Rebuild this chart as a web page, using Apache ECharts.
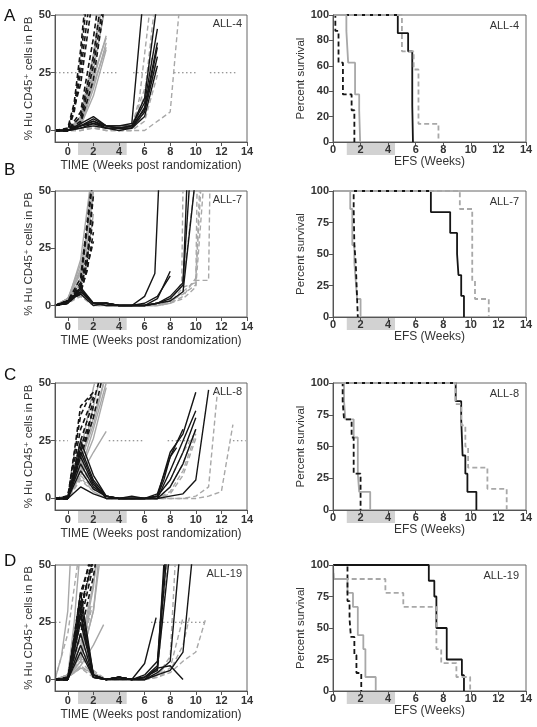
<!DOCTYPE html>
<html><head><meta charset="utf-8">
<script src="https://cdn.jsdelivr.net/npm/echarts@6/dist/echarts.min.js"></script>
<style>html,body{margin:0;padding:0;background:#fff}#c{width:537px;height:727px}</style>
</head><body><div id="c"></div>
<script>
// ---------- DATA ----------
const leftXTicks = [0,2,4,6,8,10,12,14];
const leftYTicks = [0,25,50];
const kmYTicksA = [0,20,40,60,80,100];
const kmYTicks = [0,25,50,75,100];
const treatBandLeft = [0.8, 4.6];
const treatBandRight = [1.0, 4.5];
const threshold = 25;

// Panel A (ALL-4) individual mice
const A_blackDash = [
 [[-1,0],[0,0],[0.5,10],[1,30],[1.4,52]],
 [[-1,0],[0,0],[0.5,8],[1,25],[1.6,52]],
 [[-1,0],[0,1],[0.5,12],[1,35],[1.3,52]],
 [[-1,0],[0,0],[1,20],[1.5,40],[1.8,52]],
 [[-1,0],[0,0],[1,6],[2,32],[2.5,52]],
 [[-1,0],[0,0],[1,4],[2,28],[2.7,52]],
 [[-1,0],[0,0],[1,8],[2,40],[2.3,52]],
 [[-1,0],[0,0],[1,3],[2,22],[2.8,52]]
];
const A_greySolid = [
 [[-1,0],[0,0],[1,3],[2,22],[3,41]],
 [[-1,0],[0,0],[1,4],[2,26],[2.8,50]],
 [[-1,0],[0,0],[1,2],[2,18],[3,38]],
 [[-1,0],[0,0],[1,5],[2,30],[2.6,52]],
 [[-1,0],[0,0],[1,2],[2,15],[3,35]],
 [[-1,0],[0,0],[1,6],[2,33],[2.5,52]],
 [[-1,0],[0,0],[1,3],[2,20],[3,36]],
 [[-1,0],[0,0],[1,4],[2,24],[3,40]]
];
const A_blackSolid = [
 [[-1,0],[0,0],[1,2],[2,5],[3,2],[4,2],[5,3],[5.8,52]],
 [[-1,0],[0,0],[1,2],[2,4],[3,1],[4,1],[5,2],[6,14],[6.9,52]],
 [[-1,0],[0,0],[1,3],[2,6],[3,2],[4,1],[5,1],[6,10],[7,38]],
 [[-1,0],[0,0],[1,1],[2,3],[3,1],[4,1],[5,1],[6,8],[7,32]],
 [[-1,0],[0,0],[1,2],[2,4],[3,2],[4,2],[5,2],[6,12],[7,44]],
 [[-1,0],[0,0],[1,1],[2,2],[3,1],[4,0],[5,1],[6,6],[7,28]],
 [[-1,0],[0,0],[1,2],[2,3],[3,2],[4,1],[5,2],[6,9],[7,36]]
];
const A_greyDash = [
 [[-1,0],[0,0],[1,1],[2,2],[3,1],[4,0],[5,0],[6,0],[8,8],[8.7,52]],
 [[-1,0],[0,0],[1,1],[2,1],[3,1],[4,1],[5,1],[5.6,14],[6.4,52]],
 [[-1,0],[0,0],[1,0],[2,1],[3,0],[4,0],[5,0],[6,8],[6.9,30]],
 [[-1,0],[0,0],[1,1],[2,2],[3,1],[4,1],[5,1],[6,12],[7,28]],
 [[-1,0],[0,0],[1,1],[2,1],[3,1],[4,0],[5,2],[6,18],[6.6,32]],
 [[-1,0],[0,0],[1,0],[2,1],[3,0],[4,0],[5,0],[6,4],[7,24]],
 [[-1,0],[0,0],[1,1],[2,2],[3,1],[4,1],[5,1],[6,15],[6.7,50]]
];
const A_threshold = [[-1,3.8],[5.1,7.0],[8.3,10.1],[11.1,13.1]];

// Panel B (ALL-7)
const B_blackDash = [
 [[-1,0],[0,2],[1,8],[1.5,18],[1.9,45]],
 [[-1,0],[0,1],[1,6],[1.5,15],[2,32]],
 [[-1,0],[0,2],[1,10],[1.9,52]],
 [[-1,0],[0,1],[1,7],[1.5,20],[2,38]],
 [[-1,0],[0,2],[1,5],[2,28]],
 [[-1,0],[0,1],[1,9],[1.6,25],[2,48]],
 [[-1,0],[0,2],[1,12],[1.8,50]]
];
const B_greySolid = [
 [[-1,0],[0,3],[1,15],[1.5,28],[2,50]],
 [[-1,0],[0,2],[1,12],[1.5,25],[1.9,50]],
 [[-1,0],[0,3],[1,18],[1.5,32],[1.8,52]],
 [[-1,0],[0,2],[1,10],[1.5,20],[2,40]],
 [[-1,0],[0,3],[1,14],[2,50]],
 [[-1,0],[0,2],[1,20],[1.7,50]],
 [[-1,0],[0,3],[1,16],[1.5,30],[2,52]]
];
const B_blackSolid = [
 [[-1,0],[0,2],[1,7],[2,1],[3,1],[4,0],[5,0],[6,4],[6.8,14],[7.1,52]],
 [[-1,0],[0,2],[1,6],[2,1],[3,1],[4,0],[5,0],[6,0],[7,3],[8,15]],
 [[-1,0],[0,1],[1,8],[2,1],[3,1],[4,0],[5,0],[6,1],[7,4],[8,13]],
 [[-1,0],[0,2],[1,5],[2,0],[3,1],[4,0],[5,0],[6,0],[7,1],[8,3],[9,9],[9.3,52]],
 [[-1,0],[0,1],[1,6],[2,1],[3,0],[4,0],[5,0],[6,0],[7,1],[8,2],[9,6],[9.9,52]],
 [[-1,0],[0,2],[1,7],[2,1],[3,1],[4,0],[5,0],[6,0],[7,1],[8,4],[9,10],[9.5,52]]
];
const B_greyDash = [
 [[-1,0],[0,2],[1,5],[2,1],[3,0],[4,0],[5,0],[6,0],[7,1],[8,2],[8.9,10],[9.0,52]],
 [[-1,0],[0,2],[1,4],[2,1],[3,0],[4,0],[5,0],[6,0],[7,0],[8,1],[9,6],[10,11],[11,11],[11.1,52]],
 [[-1,0],[0,2],[1,6],[2,1],[3,0],[4,0],[5,0],[6,0],[7,0],[8,1],[9,8],[10,10],[10.3,52]],
 [[-1,0],[0,1],[1,5],[2,0],[3,0],[4,0],[5,0],[6,0],[7,0],[8,2],[9,5],[10,9],[10.1,52]],
 [[-1,0],[0,2],[1,7],[2,1],[3,0],[4,0],[5,0],[6,0],[7,1],[8,1],[9,4],[10,12],[10.4,52]],
 [[-1,0],[0,1],[1,4],[2,0],[3,0],[4,0],[5,0],[6,0],[7,0],[8,1],[9,3],[10,8],[10.6,52]],
 [[-1,0],[0,2],[1,5],[2,1],[3,0],[4,0],[5,0],[6,0],[7,1],[8,3],[9,9],[9.9,52]]
];
const B_threshold = [];

// Panel C (ALL-8)
const C_blackDash = [
 [[-1,0],[0,0],[1,40],[2,46]],
 [[-1,0],[0,1],[1,36],[1.5,42],[2,45]],
 [[-1,0],[0,0],[1,25],[2,42],[2.4,50]],
 [[-1,0],[0,0],[1,20],[1.5,28],[2,40]],
 [[-1,0],[0,1],[1,30],[2,44]],
 [[-1,0],[0,0],[1,18],[2,35],[2.6,50]],
 [[-1,0],[0,0],[1,22],[1.5,30],[2,38]]
];
const C_greySolid = [
 [[-1,0],[0,0],[1,15],[2,35],[2.8,50]],
 [[-1,0],[0,1],[1,12],[2,30],[3,50]],
 [[-1,0],[0,0],[1,10],[2,20],[3,29]],
 [[-1,0],[0,0],[1,20],[2,48],[2.2,52]],
 [[-1,0],[0,1],[1,14],[2,40],[2.5,52]],
 [[-1,0],[0,0],[1,16],[2,32],[2.9,52]],
 [[-1,0],[0,0],[1,12],[2,26],[3,48]]
];
const C_blackSolid = [
 [[-1,0],[0,0],[1,5],[2,2],[3,0],[4,0],[5,0],[6,0],[7,1],[8,20],[9,28],[10,46]],
 [[-1,0],[0,0],[1,22],[2,8],[3,1],[4,0],[5,1],[6,0],[7,0],[8,12],[9,25],[10,38]],
 [[-1,0],[0,0],[1,18],[2,6],[3,1],[4,0],[5,0],[6,0],[7,2],[8,18],[8.5,24],[9,30]],
 [[-1,0],[0,0],[1,25],[2,10],[3,1],[4,0],[5,0],[6,0],[7,0],[8,5],[9,15],[10,30]],
 [[-1,0],[0,0],[1,12],[2,4],[3,1],[4,0],[5,0],[6,0],[7,0],[8,1],[9,2],[10,8],[11,47]],
 [[-1,0],[0,0],[1,15],[2,5],[3,1],[4,0],[5,0],[6,0],[7,1],[8,8],[9,20],[10,35]],
 [[-1,0],[0,0],[1,20],[2,7],[3,0],[4,0],[5,0],[6,0],[7,1],[7.5,8],[8,18],[8.5,22]]
];
const C_greyDash = [
 [[-1,0],[0,0],[1,10],[2,4],[3,1],[4,0],[5,0],[6,0],[7,0],[8,0],[9,0],[10,1],[11,5],[11.7,47]],
 [[-1,0],[0,0],[1,8],[2,3],[3,0],[4,0],[5,0],[6,0],[7,0],[8,0],[9,0],[10,0],[11,1],[12,3],[12.9,32]],
 [[-1,0],[0,0],[1,14],[2,5],[3,1],[4,0],[5,0],[6,0],[7,0],[8,5],[9,15],[10,30]],
 [[-1,0],[0,0],[1,12],[2,4],[3,1],[4,0],[5,0],[6,0],[7,0],[8,3],[9,12],[10,28]],
 [[-1,0],[0,0],[1,16],[2,6],[3,1],[4,0],[5,0],[6,0],[7,1],[8,8],[9,20],[10,29]],
 [[-1,0],[0,0],[1,9],[2,3],[3,0],[4,0],[5,0],[6,0],[7,0],[8,2],[9,10],[10,26]]
];
const C_threshold = [[-1,0],[3.2,6.0],[7.8,9.5],[12.9,13.9]];

// Panel D (ALL-19)
const D_blackDash = [
 [[-1,0],[0,0],[1,38],[1.8,52]],
 [[-1,0],[0,1],[1,32],[2,52]],
 [[-1,0],[0,0],[1,28],[1.6,45],[1.9,52]],
 [[-1,0],[0,0],[1,35],[1.7,52]],
 [[-1,0],[0,1],[1,25],[2,50]],
 [[-1,0],[0,0],[1,30],[1.5,42],[2,52]],
 [[-1,0],[0,0],[1,20],[2,45],[2.2,52]]
];
const D_greySolid = [
 [[-1,0],[-0.5,10],[0,30],[0.2,52]],
 [[-1,0],[0,2],[0.5,25],[0.9,52]],
 [[-1,0],[0,2],[1,12],[2,40],[2.2,52]],
 [[-1,0],[0,1],[1,8],[2,30],[2.4,52]],
 [[-1,0],[0,2],[1,10],[1.8,32]],
 [[-1,0],[0,1],[1,6],[2,15],[2.8,24]],
 [[-1,0],[0,2],[1,15],[2,42],[2.3,52]],
 [[-1,0],[0,1],[1,5],[2,3],[3,0],[4,0],[5,0],[6,0],[7,2],[7.5,5]],
 [[-1,0],[0,1],[1,8],[2,30],[2.5,52]]
];
const D_blackSolid = [
 [[-1,0],[0,0],[1,38],[2,2],[3,0],[4,1],[5,0],[6,7],[6.9,27]],
 [[-1,0],[0,0],[1,30],[2,1],[3,0],[4,1],[5,0],[6,1],[7,6],[7.7,52]],
 [[-1,0],[0,0],[1,25],[2,2],[3,0],[4,0],[5,0],[6,0],[7,5],[7.9,52]],
 [[-1,0],[0,0],[1,20],[2,1],[3,0],[4,1],[5,0],[6,2],[7,8],[7.6,52]],
 [[-1,0],[0,0],[1,15],[2,1],[3,0],[4,1],[5,0],[6,1],[7,5],[8,6],[9,0]],
 [[-1,0],[0,0],[1,34],[2,2],[3,0],[4,1],[5,0],[6,0],[7,3],[8,8],[8.7,52]],
 [[-1,0],[0,0],[1,12],[2,1],[3,0],[4,1],[5,0],[6,0],[7,2],[8,4],[9,12],[9.7,52]],
 [[-1,0],[0,0],[1,28],[2,2],[3,0],[4,1],[5,0],[6,1],[7,4],[7.5,50]]
];
const D_greyDash = [
 [[-1,0],[0,20],[0.8,52]],
 [[-1,0],[0,1],[1,10],[2,3],[3,0],[4,0],[5,0],[6,0],[7,2],[8,5],[9,27]],
 [[-1,0],[0,1],[1,8],[2,2],[3,0],[4,0],[5,0],[6,0],[7,1],[8,3],[9,8],[10,12],[10.8,27]],
 [[-1,0],[0,1],[1,12],[2,3],[3,0],[4,0],[5,0],[6,1],[7,4],[7.6,52]],
 [[-1,0],[0,1],[1,6],[2,2],[3,0],[4,0],[5,0],[6,0],[7,3],[7.8,52]],
 [[-1,0],[0,2],[1,15],[2,2],[3,0],[4,0],[5,0],[6,0],[7,2],[8,10],[8.4,52]],
 [[-1,0],[0,1],[1,5],[2,1],[3,0],[4,0],[5,0],[6,0],[7,1],[8,4],[9,15],[9.5,27]],
 [[-1,0],[0,1],[1,10],[1.9,32]],
 [[-1,0],[0,1],[1,18],[2,4],[3,0],[4,0],[5,0],[6,0],[7,5],[7.4,27]]
];
const D_threshold = [[-1,-0.4],[6.5,10.7]];

// Kaplan-Meier (EFS) step data: [week, percent surviving]
const kmA_blackDash = [[0,100],[0.17,87.5],[0.4,62.5],[0.72,37.5],[1.35,25],[1.55,0]];
const kmA_greySolid = [[0,100],[0.97,87.5],[1.1,62.5],[1.6,37.5],[1.9,25],[1.97,0]];
const kmA_blackSolid = [[0,100],[4.7,85.7],[5.45,71.4],[5.75,28.6],[5.8,0]];
const kmA_greyDash = [[0,100],[5.0,71.4],[5.85,57.1],[6.2,14.3],[7.65,0]];

const kmB_blackDash = [[0,100],[1.5,85.7],[1.55,57.1],[1.65,42.9],[1.7,28.6],[1.75,14.3],[1.8,0]];
const kmB_greySolid = [[0,100],[1.25,85.7],[1.4,57.1],[1.55,42.9],[1.65,28.6],[1.75,14.3],[2.0,0]];
const kmB_blackSolid = [[0,100],[7.1,83.3],[8.5,66.7],[9.0,50],[9.1,33.3],[9.3,16.7],[9.5,0]];
const kmB_greyDash = [[0,100],[9.2,85.7],[10.1,28.6],[10.3,14.3],[11.3,0]];

const kmC_blackDash = [[0,100],[0.7,85.7],[0.8,71.4],[1.35,57.1],[1.5,28.6],[2.0,0]];
const kmC_greySolid = [[0,100],[0.8,85.7],[0.9,71.4],[1.5,57.1],[1.8,28.6],[1.9,14.3],[2.7,0]];
const kmC_blackSolid = [[0,100],[8.9,85.7],[9.3,71.4],[9.4,42.9],[9.6,28.6],[9.75,14.3],[10.4,0]];
const kmC_greyDash = [[0,100],[8.9,83.3],[9.3,66.7],[9.6,50],[9.8,33.3],[11.2,16.7],[12.6,0]];

const kmD_blackDash = [[0,100],[1.05,71.4],[1.2,57.1],[1.3,42.9],[1.55,28.6],[1.7,14.3],[2.05,0]];
const kmD_greySolid = [[0,100],[0.05,88.9],[1.05,77.8],[1.45,66.7],[1.8,44.4],[2.2,33.3],[2.35,11.1],[3.1,0]];
const kmD_blackSolid = [[0,100],[6.95,87.5],[7.35,75],[7.5,50],[8.25,25],[9.35,12.5],[9.5,0]];
const kmD_greyDash = [[0,100],[0.05,88.9],[3.8,77.8],[5.1,66.7],[7.5,33.3],[7.85,22.2],[8.95,11.1],[9.95,0]];

// ---------- LAYOUT / STYLE ----------
const FONT = 'Liberation Sans, Arial, DejaVu Sans, sans-serif';
const BLACK = '#151515', GREY = '#a8a8a8';
const panels = [
 {letter:'A', letterY:8, label:'ALL-4', top:15, bottom:142,
  groups:[A_greyDash,A_greySolid,A_blackSolid,A_blackDash], thr:A_threshold,
  km:[kmA_greyDash,kmA_greySolid,kmA_blackSolid,kmA_blackDash], kmTicks:kmYTicksA},
 {letter:'B', letterY:162, label:'ALL-7', top:191, bottom:317,
  groups:[B_greyDash,B_greySolid,B_blackSolid,B_blackDash], thr:B_threshold,
  km:[kmB_greyDash,kmB_greySolid,kmB_blackSolid,kmB_blackDash], kmTicks:kmYTicks},
 {letter:'C', letterY:367, label:'ALL-8', top:383, bottom:510,
  groups:[C_greyDash,C_greySolid,C_blackSolid,C_blackDash], thr:C_threshold,
  km:[kmC_greyDash,kmC_greySolid,kmC_blackSolid,kmC_blackDash], kmTicks:kmYTicks},
 {letter:'D', letterY:553, label:'ALL-19', top:565, bottom:691,
  groups:[D_greyDash,D_greySolid,D_blackSolid,D_blackDash], thr:D_threshold,
  km:[kmD_greyDash,kmD_greySolid,kmD_blackSolid,kmD_blackDash], kmTicks:kmYTicks}
];
// style per group order: greyDash, greySolid, blackSolid, blackDash
const groupStyles = [
 {color:GREY, type:[5,3], width:1.4},
 {color:GREY, type:'solid', width:1.4},
 {color:BLACK, type:'solid', width:1.4},
 {color:BLACK, type:[5,3], width:1.6}
];
const kmDrawOrder = [2, 1, 3, 0];

const L = {left:55, width:192}, R = {left:333, width:193};
const tickLabel = {fontSize:11, fontWeight:'bold', color:'#333', fontFamily:FONT};
const nameStyle = {fontSize:12, color:'#333', fontFamily:FONT};
const axisLineStyle = {color:'#555', width:1};

const option = {animation:false, backgroundColor:'#fff', grid:[], xAxis:[], yAxis:[], series:[], graphic:[]};

panels.forEach((p, i) => {
  const h = p.bottom - p.top;
  const gL = i*4, gLB = gL+1, gR = gL+2, gRB = gL+3;
  option.grid.push({left:L.left, top:p.top, width:L.width, height:h, show:true, borderColor:'#666', borderWidth:1});
  option.grid.push({left:L.left, top:p.bottom, width:L.width, height:13});
  option.grid.push({left:R.left, top:p.top, width:R.width, height:h, show:true, borderColor:'#666', borderWidth:1});
  option.grid.push({left:R.left, top:p.bottom, width:R.width, height:13});

  option.xAxis.push({gridIndex:gL, type:'value', min:-1, max:14, z:5,
    axisLine:{show:true, onZero:false, lineStyle:axisLineStyle},
    axisTick:{show:true, customValues:leftXTicks, length:4, lineStyle:axisLineStyle},
    axisLabel:{customValues:leftXTicks, margin:4, ...tickLabel},
    splitLine:{show:false},
    name:'TIME (Weeks post randomization)', nameLocation:'middle', nameGap:18, nameTextStyle:nameStyle});
  option.yAxis.push({gridIndex:gL, type:'value', min:-5, max:50, z:5,
    axisLine:{show:true, onZero:false, lineStyle:axisLineStyle},
    axisTick:{show:true, customValues:leftYTicks, length:4, lineStyle:axisLineStyle},
    axisLabel:{customValues:leftYTicks, margin:4, ...tickLabel},
    splitLine:{show:false},
    name:'% Hu CD45⁺ cells in PB', nameLocation:'middle', nameGap:16, nameTextStyle:{...nameStyle, fontSize:11.5}});
  option.xAxis.push({gridIndex:gLB, type:'value', min:-1, max:14, show:false});
  option.yAxis.push({gridIndex:gLB, type:'value', min:0, max:1, show:false});
  option.xAxis.push({gridIndex:gR, type:'value', min:0, max:14, interval:2, z:5,
    axisLine:{show:true, onZero:false, lineStyle:axisLineStyle},
    axisTick:{show:true, length:4, lineStyle:axisLineStyle},
    axisLabel:{margin:2, ...tickLabel},
    splitLine:{show:false},
    name:'EFS (Weeks)', nameLocation:'middle', nameGap:10, nameTextStyle:nameStyle});
  option.yAxis.push({gridIndex:gR, type:'value', min:0, max:100, z:5,
    axisLine:{show:true, onZero:false, lineStyle:axisLineStyle},
    axisTick:{show:true, customValues:p.kmTicks, length:4, lineStyle:axisLineStyle},
    axisLabel:{customValues:p.kmTicks, margin:4, ...tickLabel},
    splitLine:{show:false},
    name:'Percent survival', nameLocation:'middle', nameGap:24, nameTextStyle:{...nameStyle, fontSize:11.5}});
  option.xAxis.push({gridIndex:gRB, type:'value', min:0, max:14, show:false});
  option.yAxis.push({gridIndex:gRB, type:'value', min:0, max:1, show:false});

  [[gLB, treatBandLeft],[gRB, treatBandRight]].forEach(([g, band]) => {
    option.series.push({type:'line', xAxisIndex:g, yAxisIndex:g, z:1, silent:true,
      data:[[band[0],1],[band[1],1]], showSymbol:false,
      lineStyle:{width:0, opacity:0}, areaStyle:{color:'#d2d2d2', opacity:1, origin:'start'}});
  });

  p.thr.forEach(seg => {
    option.series.push({type:'line', xAxisIndex:gL, yAxisIndex:gL, silent:true, showSymbol:false,
      data:[[seg[0],threshold],[seg[1],threshold]],
      lineStyle:{color:'#777', width:1.2, type:[1.5,2.5]}});
  });

  p.groups.forEach((grp, gi) => {
    grp.forEach(curve => {
      option.series.push({type:'line', xAxisIndex:gL, yAxisIndex:gL, silent:true, showSymbol:false,
        clip:true, data:curve, lineStyle:groupStyles[gi]});
    });
  });

  kmDrawOrder.forEach(gi => {
    option.series.push({type:'line', step:'end', xAxisIndex:gR, yAxisIndex:gR, silent:true, showSymbol:false,
      clip:false, data:p.km[gi], lineStyle:{...groupStyles[gi], width:1.8}});
  });

  option.graphic.push({type:'text', left:4, top:p.letterY, style:{text:p.letter, fontSize:17, fill:'#111', fontFamily:FONT}});
  option.graphic.push({type:'text', right:537-(L.left+L.width)+5, top:p.top+3, style:{text:p.label, fontSize:11, fill:'#333', fontFamily:FONT}});
  option.graphic.push({type:'text', right:537-(R.left+R.width)+7, top:p.top+5, style:{text:p.label, fontSize:11, fill:'#333', fontFamily:FONT}});
});

const chart = echarts.init(document.getElementById('c'), null, {renderer:'canvas'});
chart.setOption(option);
</script>
</body></html>
